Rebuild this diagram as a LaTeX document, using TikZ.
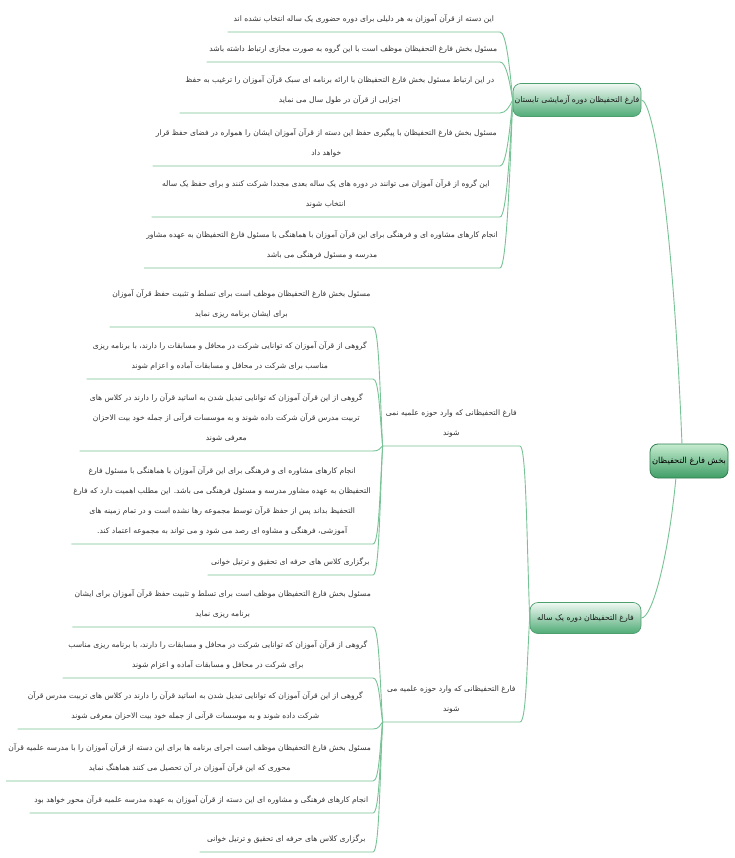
\documentclass[tikz,border=0pt]{standalone}
\usepackage{fontspec}
\TeXXeTstate=1
\newfontfamily\arabicfont[Script=Arabic]{DejaVu Sans}
\usetikzlibrary{calc}
\definecolor{lnk}{HTML}{78C396}
\definecolor{txt}{HTML}{333333}
\definecolor{boxtop}{HTML}{F0F9F3}
\definecolor{boxbot}{HTML}{4FAB76}
\definecolor{boxdraw}{HTML}{4E9E6E}
\definecolor{roottop}{HTML}{C6ECD0}
\definecolor{rootbot}{HTML}{3F9E66}
\definecolor{rootdraw}{HTML}{2F7F50}
\newcommand\fa[1]{\beginR #1\endR}
\tikzset{
  conn/.style={draw=lnk, line width=0.9pt},
  leafnode/.style={anchor=south east, align=center, inner xsep=2pt, inner ysep=8pt,
    font=\arabicfont\fontsize{7.6}{20}\selectfont, text=txt},
  branchbox/.style={rounded corners=8pt, draw=boxdraw, line width=0.7pt,
    top color=boxtop, bottom color=boxbot, inner sep=0pt,
    font=\arabicfont\fontsize{7.8}{10}\selectfont, text=black!90},
  rootbox/.style={rounded corners=8pt, draw=rootdraw, line width=0.8pt,
    top color=roottop, bottom color=rootbot, inner sep=0pt,
    font=\arabicfont\fontsize{8.3}{10}\selectfont, text=black}
}
\newcommand\link[2]{%
  \draw[conn] let \p1=(#1), \p2=(#2.south east) in
    (\p1) .. controls (\x1-3pt,{0.5*\y1+0.5*\y2}) and (\x2+6pt,\y2) .. (\p2)
    -- (#2.south west);}
\begin{document}
\begin{tikzpicture}[x=1pt,y=-1pt]
\fill[white] (0,0) rectangle (735,858);
\useasboundingbox (0,0) rectangle (735,858);

% main boxes
\node[rootbox, minimum width=78pt, minimum height=34pt] (root) at (689,461) {\fa{بخش فارغ التحفیظان}};
\node[branchbox, minimum width=128pt, minimum height=33pt] (top) at (577,100) {\fa{فارغ التحفیظان دوره آزمایشی تابستان}};
\node[branchbox, minimum width=111pt, minimum height=31pt] (bot) at (585.5,618) {\fa{فارغ التحفیظان دوره یک ساله}};

\draw[conn] (root.112) .. controls (672,200) and (652,100) .. (top.east);
\draw[conn] (root.233) .. controls (668,560) and (652,618) .. (bot.east);

% sub-branches of the one-year course
\node[leafnode, minimum width=137pt] (sub1) at (520,446) {\fa{فارغ التحفیظانی که وارد حوزه علمیه نمی}\\\fa{شوند}};
\node[leafnode, minimum width=137pt] (sub2) at (520,722) {\fa{فارغ التحفیظانی که وارد حوزه علمیه می}\\\fa{شوند}};
\link{bot.west}{sub1}
\link{bot.west}{sub2}

% summer trial leaves
\node[leafnode, minimum width=272pt] (t1) at (500,32) {\fa{این دسته از قرآن آموزان به هر دلیلی برای دوره حضوری یک ساله انتخاب نشده اند}};
\node[leafnode, minimum width=293pt] (t2) at (500,62) {\fa{مسئول بخش فارغ التحفیظان موظف است با این گروه به صورت مجازی ارتباط داشته باشد}};
\node[leafnode, minimum width=320pt] (t3) at (500,113) {\fa{در این ارتباط مسئول بخش فارغ التحفیظان با ارائه برنامه ای سبک قرآن آموزان را ترغیب به حفظ}\\\fa{اجزایی از قرآن در طول سال می نماید}};
\node[leafnode, minimum width=347pt] (t4) at (500,166) {\fa{مسئول بخش فارغ التحفیظان با پیگیری حفظ این دسته از قرآن آموزان ایشان را همواره در فضای حفظ قرار}\\\fa{خواهد داد}};
\node[leafnode, minimum width=348pt] (t5) at (500,217) {\fa{این گروه از قرآن آموزان می توانند در دوره های یک ساله بعدی مجددا شرکت کنند و برای حفظ یک ساله}\\\fa{انتخاب شوند}};
\node[leafnode, minimum width=355pt] (t6) at (500,268) {\fa{انجام کارهای مشاوره ای و فرهنگی برای این قرآن آموزان با هماهنگی با مسئول فارغ التحفیظان به عهده مشاور}\\\fa{مدرسه و مسئول فرهنگی می باشد}};
\foreach \lf in {t1,t2,t3,t4,t5,t6} {\link{top.west}{\lf}}

% not entering seminary
\node[leafnode, minimum width=263pt] (m1) at (373,327) {\fa{مسئول بخش فارغ التحفیظان موظف است برای تسلط و تثبیت حفظ قرآن آموزان}\\\fa{برای ایشان برنامه ریزی نماید}};
\node[leafnode, minimum width=286pt] (m2) at (373,379) {\fa{گروهی از قرآن آموزان که توانایی شرکت در محافل و مسابقات را دارند، با برنامه ریزی}\\\fa{مناسب برای شرکت در محافل و مسابقات آماده و اعزام شوند}};
\node[leafnode, minimum width=293pt] (m3) at (373,451) {\fa{گروهی از این قرآن آموزان که توانایی تبدیل شدن به اساتید قرآن را دارند در کلاس های}\\\fa{تربیت مدرس قرآن شرکت داده شوند و به موسسات قرآنی از جمله خود بیت الاحزان}\\\fa{معرفی شوند}};
\node[leafnode, minimum width=298pt] (m4) at (373,544) {\fa{انجام کارهای مشاوره ای و فرهنگی برای این قرآن آموزان با هماهنگی با مسئول فارغ}\\\fa{التحفیظان به عهده مشاور مدرسه و مسئول فرهنگی می باشد. این مطلب اهمیت دارد که فارغ}\\\fa{التحفیظ بداند پس از حفظ قرآن توسط مجموعه رها نشده است و در تمام زمینه های}\\\fa{آموزشی، فرهنگی و مشاوه ای رصد می شود و می تواند به مجموعه اعتماد کند.}};
\node[leafnode, minimum width=165pt] (m5) at (373,575) {\fa{برگزاری کلاس های حرفه ای تحقیق و ترتیل خوانی}};
\foreach \lf in {m1,m2,m3,m4,m5} {\link{sub1.south west}{\lf}}

% entering seminary
\node[leafnode, minimum width=298pt] (b1) at (373,627) {\fa{مسئول بخش فارغ التحفیظان موظف است برای تسلط و تثبیت حفظ قرآن آموزان برای ایشان}\\\fa{برنامه ریزی نماید}};
\node[leafnode, minimum width=310pt] (b2) at (373,678) {\fa{گروهی از قرآن آموزان که توانایی شرکت در محافل و مسابقات را دارند، با برنامه ریزی مناسب}\\\fa{برای شرکت در محافل و مسابقات آماده و اعزام شوند}};
\node[leafnode, minimum width=355pt] (b3) at (373,729) {\fa{گروهی از این قرآن آموزان که توانایی تبدیل شدن به اساتید قرآن را دارند در کلاس های تربیت مدرس قرآن}\\\fa{شرکت داده شوند و به موسسات قرآنی از جمله خود بیت الاحزان معرفی شوند}};
\node[leafnode, minimum width=366pt] (b4) at (373,781) {\fa{مسئول بخش فارغ التحفیظان موظف است اجرای برنامه ها برای این دسته از قرآن آموزان را با مدرسه علمیه قرآن}\\\fa{محوری که این قرآن آموزان در آن تحصیل می کنند هماهنگ نماید}};
\node[leafnode, minimum width=343pt] (b5) at (373,813) {\fa{انجام کارهای فرهنگی و مشاوره ای این دسته از قرآن آموزان به عهده مدرسه علمیه قرآن محور خواهد بود}};
\node[leafnode, minimum width=173pt] (b6) at (373,852) {\fa{برگزاری کلاس های حرفه ای تحقیق و ترتیل خوانی}};
\foreach \lf in {b1,b2,b3,b4,b5,b6} {\link{sub2.south west}{\lf}}
\end{tikzpicture}
\end{document}
